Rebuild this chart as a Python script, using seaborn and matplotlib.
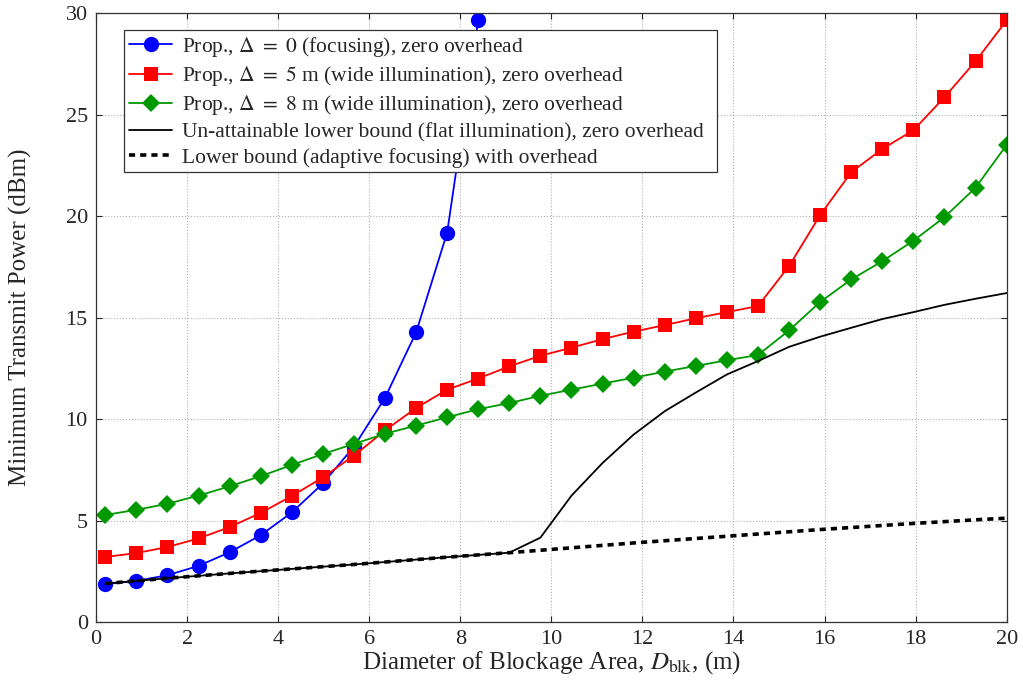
import numpy as np
import pandas as pd
import matplotlib
matplotlib.use("Agg")
import matplotlib.pyplot as plt
import seaborn as sns

# Diameter of blockage area (m), 30 sample points
diameter = np.linspace(0.2, 20, 30)

# Prop., Delta = 0 (focusing) -- goes off the top after 8.4 m
p_delta0 = [1.87, 2.03, 2.31, 2.77, 3.44, 4.28, 5.40, 6.83, 8.64, 11.05,
            14.27, 19.19, 29.64, 42.0]
# Prop., Delta = 5 m (wide illumination)
p_delta5 = [3.21, 3.40, 3.70, 4.12, 4.68, 5.38, 6.21, 7.13, 8.20, 9.44,
            10.55, 11.45, 12.00, 12.60, 13.12, 13.52, 13.94, 14.31, 14.63, 14.97,
            15.27, 15.57, 17.54, 20.05, 22.16, 23.31, 24.23, 25.86, 27.63, 29.64]
# Prop., Delta = 8 m (wide illumination)
p_delta8 = [5.28, 5.53, 5.83, 6.23, 6.69, 7.19, 7.74, 8.28, 8.78, 9.28,
            9.68, 10.09, 10.49, 10.79, 11.15, 11.45, 11.75, 12.04, 12.34, 12.62,
            12.90, 13.16, 14.37, 15.77, 16.88, 17.78, 18.79, 19.95, 21.40, 23.51]
# Lower bound (adaptive focusing) with overhead
lb_overhead = [1.90, 2.03, 2.16, 2.28, 2.40, 2.51, 2.62, 2.73, 2.84, 2.96,
               3.08, 3.20, 3.31, 3.42, 3.54, 3.66, 3.78, 3.90, 4.01, 4.12,
               4.23, 4.34, 4.45, 4.56, 4.66, 4.76, 4.86, 4.95, 5.04, 5.12]
# Un-attainable lower bound (flat illumination), zero overhead
lb_flat = lb_overhead[:14] + [4.16, 6.23, 7.84, 9.24, 10.39, 11.31, 12.20, 12.86,
                              13.56, 14.06, 14.50, 14.93, 15.27, 15.63, 15.93, 16.21]

labels = [r'Prop., $\Delta\ =\ 0$ (focusing), zero overhead',
          r'Prop., $\Delta\ =\ 5$ m (wide illumination), zero overhead',
          r'Prop., $\Delta\ =\ 8$ m (wide illumination), zero overhead',
          'Un-attainable lower bound (flat illumination), zero overhead',
          'Lower bound (adaptive focusing) with overhead']

sns.set_style("ticks")
plt.rcParams['font.family'] = ['Liberation Serif', 'DejaVu Serif']
plt.rcParams['mathtext.fontset'] = 'stix'

fig = plt.figure(figsize=(10.23, 6.92), dpi=100)
ax = fig.add_axes([0.094, 0.101, 0.890, 0.880])

sns.lineplot(x=diameter[:len(p_delta0)], y=p_delta0, ax=ax, color='#0000ff',
             marker='o', markersize=11, markeredgewidth=0, linewidth=1.3, label=labels[0])
sns.lineplot(x=diameter, y=p_delta5, ax=ax, color='#ff0000',
             marker='s', markersize=10.5, markeredgewidth=0, linewidth=1.3, label=labels[1])
sns.lineplot(x=diameter, y=p_delta8, ax=ax, color='#009900',
             marker='D', markersize=9, markeredgewidth=0, linewidth=1.3, label=labels[2])
sns.lineplot(x=diameter, y=lb_flat, ax=ax, color='black', linewidth=1.3, label=labels[3])
sns.lineplot(x=diameter, y=lb_overhead, ax=ax, color='black', linewidth=2.6,
             linestyle=(0, (1.7, 1.4)), label=labels[4])

ax.set_xlim(0, 20)
ax.set_ylim(0, 30)
ax.set_xticks(range(0, 21, 2))
ax.set_yticks(range(0, 31, 5))
ax.grid(True, linestyle=':', color='#b0b0b0', linewidth=0.8)
ax.tick_params(direction='in', top=True, right=True, labelsize=16, length=4, pad=6)
for s in ax.spines.values():
    s.set_color('#333333')
    s.set_linewidth(0.9)

ax.set_xlabel(r'Diameter of Blockage Area, $D_{\mathrm{blk}}$, (m)', fontsize=18, labelpad=0)
ax.set_ylabel('Minimum Transmit Power (dBm)', fontsize=18, labelpad=24)

leg = ax.legend(loc='upper left', bbox_to_anchor=(0.031, 0.972, 0.651, 0.0), mode='expand',
                fontsize=15.5, frameon=True, fancybox=False, handlelength=2.0, borderpad=0.22,
                labelspacing=0.24, handletextpad=0.45, borderaxespad=0)
leg.get_frame().set_edgecolor('#333333')
leg.get_frame().set_linewidth(0.9)
leg.get_frame().set_alpha(1)

fig.savefig('out.png', dpi=100)
